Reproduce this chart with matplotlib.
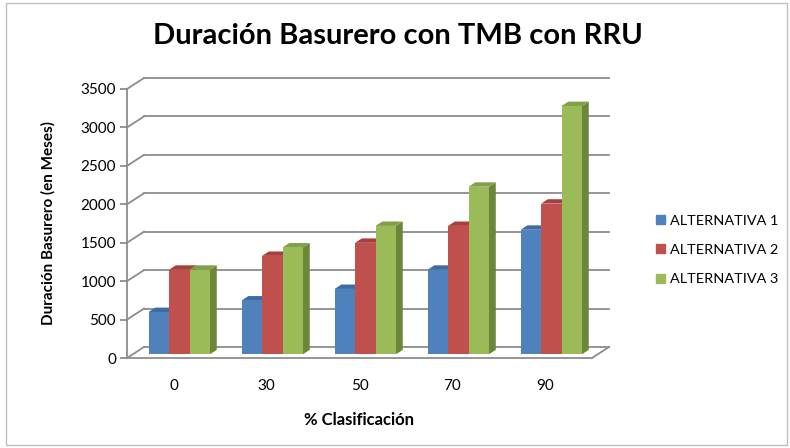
import matplotlib.pyplot as plt
import matplotlib.patches as mpatches
from matplotlib.patches import Polygon, Rectangle

plt.rcParams['font.family'] = ['Lato', 'DejaVu Sans']

# datos
categorias = ["0", "30", "50", "70", "90"]
alternativa_1 = [550, 700, 850, 1100, 1620]
alternativa_2 = [1100, 1280, 1450, 1670, 1960]
alternativa_3 = [1100, 1390, 1670, 2180, 3230]
series = [alternativa_1, alternativa_2, alternativa_3]
nombres = ["ALTERNATIVA 1", "ALTERNATIVA 2", "ALTERNATIVA 3"]
ticks_y = [0, 500, 1000, 1500, 2000, 2500, 3000, 3500]

frente = ["#4F81BD", "#C0504D", "#9BBB59"]
lado = ["#36598A", "#8E3634", "#6C873A"]
arriba = ["#3E6BA3", "#A63F3D", "#82A048"]

W, H = 790, 448
fig = plt.figure(figsize=(W / 100, H / 100), dpi=100)
ax_l, ax_r, ax_t, ax_b = 127, 592, 89, 358
ax = fig.add_axes([ax_l / W, 1 - ax_b / H, (ax_r - ax_l) / W, (ax_b - ax_t) / H])
ax.set_xlim(-0.5, len(categorias) - 0.5)
ax.set_ylim(0, 3500)
ax.patch.set_visible(False)

# pixeles -> datos
px_x = (len(categorias)) / (ax_r - ax_l)
px_y = 3500 / (ax_b - ax_t)
prof_x, prof_y = 17, 11  # profundidad del muro


def mover(x, y, d):
    return x + d * prof_x * px_x, y + d * prof_y * px_y


gris = "#8C8C8C"
# muro del fondo y diagonales
for v in ticks_y:
    x0, y0 = mover(-0.5, v, 1)
    x1, y1 = mover(len(categorias) - 0.5, v, 1)
    ax.plot([x0, x1], [y0, y1], color=gris, lw=1.3, clip_on=False, zorder=1)
    ax.plot([-0.5, x0], [v, y0], color=gris, lw=1.3, clip_on=False, zorder=1)
xd, yd = mover(len(categorias) - 0.5, 0, 1)
ax.plot([len(categorias) - 0.5, xd], [0, yd], color=gris, lw=1.3, clip_on=False, zorder=1)

# barras 3d
ancho = 0.22
d1, d2 = 0.34, 0.74
for i, vals in enumerate(series):
    for j, v in enumerate(vals):
        xl = j - 1.5 * ancho + i * ancho
        xr = xl + ancho
        a = mover(xl, 0, d1)
        b = mover(xr, 0, d1)
        c = mover(xr, v, d1)
        d = mover(xl, v, d1)
        b2 = mover(xr, 0, d2)
        c2 = mover(xr, v, d2)
        d2p = mover(xl, v, d2)
        ax.add_patch(Polygon([b, b2, c2, c], closed=True, fc=lado[i], ec="none", zorder=3, clip_on=False))
        ax.add_patch(Polygon([d, c, c2, d2p], closed=True, fc=arriba[i], ec="none", zorder=3, clip_on=False))
        ax.add_patch(Polygon([a, b, c, d], closed=True, fc=frente[i], ec="none", zorder=4, clip_on=False))

# ejes
for s in ["top", "right"]:
    ax.spines[s].set_visible(False)
ax.spines["left"].set_color(gris)
ax.spines["bottom"].set_color(gris)
ax.spines["left"].set_linewidth(1.3)
ax.spines["bottom"].set_linewidth(1.3)
ax.set_yticks(ticks_y)
ax.set_yticklabels([str(t) for t in ticks_y])
ax.set_xticks(range(len(categorias)))
ax.set_xticklabels(categorias)
ax.tick_params(axis="y", length=5, width=1.3, color=gris, labelsize=11, pad=3)
ax.tick_params(axis="x", length=0, labelsize=11, pad=15)

ax.set_xlabel("% Clasificación", fontsize=12, fontweight="bold", labelpad=14)
fig.text(48 / W, 1 - 223 / H, "Duración Basurero (en Meses)", rotation=90,
         fontsize=11, fontweight="bold", ha="center", va="center")
fig.text(398 / W, 1 - 36 / H, "Duración Basurero con TMB con RRU",
         fontsize=21, fontweight="bold", ha="center", va="center")

handles = [mpatches.Patch(color=frente[i], label=nombres[i]) for i in range(3)]
fig.legend(handles=handles, loc="center left", bbox_to_anchor=(656 / W, 1 - 250 / H),
           frameon=False, fontsize=10.4, handlelength=0.65, handleheight=0.6,
           handletextpad=0.3, labelspacing=1.2, borderpad=0, borderaxespad=0)

fig.add_artist(Rectangle((6 / W, 3 / H), 781 / W, 442 / H, transform=fig.transFigure,
                         fill=False, ec="#BFBFBF", lw=1))

fig.savefig("out.png", dpi=100)
